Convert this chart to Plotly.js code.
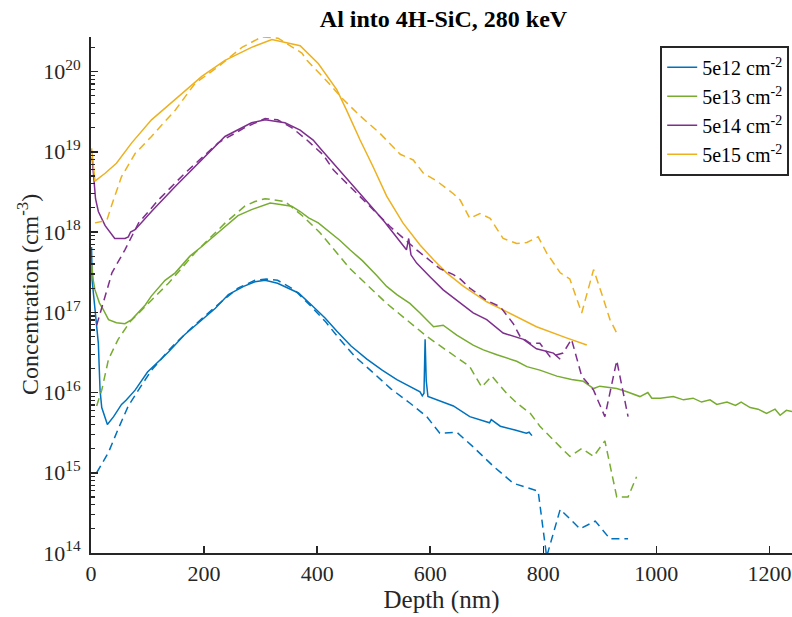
<!DOCTYPE html>
<html>
<head>
<meta charset="utf-8">
<script src="https://cdn.plot.ly/plotly-3.0.1.min.js"></script>
<style>html,body{margin:0;padding:0;background:#fff;}#chart{width:792px;height:617px;}</style>
</head>
<body>
<div id="chart"></div>
<script>
// ---- Data (depth in nm, concentration in cm^-3) ----
const doseLabels = ["5e12 cm<sup>-2</sup>", "5e13 cm<sup>-2</sup>", "5e14 cm<sup>-2</sup>", "5e15 cm<sup>-2</sup>"];
const colors = ["#0072BD", "#77AC30", "#7E2F8E", "#EDB120"];

// 5e12 measured (solid)
const d12_x = [1, 2, 13, 16, 19, 29, 40, 54, 62, 78, 100, 137, 165, 196, 220, 243, 270, 290, 308, 330, 350, 367, 390, 414, 435, 460, 488, 515, 541, 565, 582, 586, 589, 591, 593, 596, 620, 641, 670, 690, 705, 708, 724, 750, 770, 775, 780];
const d12_y = [6.5e17, 2.5e17, 4.1e16, 1.07e16, 6.5e15, 4.0e15, 5.0e15, 7.1e15, 8.0e15, 1.07e16, 1.8e16, 3.2e16, 5.2e16, 8.1e16, 1.12e17, 1.66e17, 2.1e17, 2.4e17, 2.5e17, 2.3e17, 2.0e17, 1.74e17, 1.23e17, 8.5e16, 5.8e16, 3.8e16, 2.6e16, 1.9e16, 1.45e16, 1.17e16, 1.02e16, 9.1e15, 9.8e15, 4.6e16, 1.4e16, 8.9e15, 7.8e15, 6.8e15, 5.0e15, 4.5e15, 4.2e15, 4.6e15, 3.8e15, 3.4e15, 3.1e15, 3.2e15, 2.9e15];
// 5e12 simulated (dashed)
const s12_x = [10, 31, 48, 66, 85, 107, 143, 180, 220, 260, 290, 310, 330, 360, 390, 415, 440, 467, 494, 530, 564, 594, 617, 647, 676, 712, 747, 791, 806, 830, 865, 892, 918, 950];
const s12_y = [1.0e15, 1.8e15, 3.5e15, 6.8e15, 1.1e16, 1.9e16, 3.7e16, 6.6e16, 1.17e17, 2.0e17, 2.5e17, 2.6e17, 2.5e17, 1.9e17, 1.17e17, 7.6e16, 4.6e16, 2.8e16, 1.9e16, 1.12e16, 7.4e15, 5.0e15, 3.1e15, 3.2e15, 2.1e15, 1.2e15, 7.4e14, 5.9e14, 9.0e13, 3.5e14, 2.0e14, 2.5e14, 1.5e14, 1.5e14];

// 5e13 measured (solid)
const d13_x = [1, 4, 7, 15, 22, 31, 45, 60, 72, 96, 107, 131, 149, 175, 196, 237, 260, 284, 300, 317, 335, 355, 370, 385, 402, 417, 440, 458, 480, 505, 523, 541, 564, 582, 606, 623, 647, 676, 694, 718, 753, 771, 794, 824, 850, 871, 889, 900, 915, 930, 948, 971, 985, 992, 1007, 1030, 1048, 1065, 1080, 1095, 1107, 1125, 1140, 1150, 1166, 1180, 1195, 1210, 1219, 1230, 1240];
const d13_y = [4.1e17, 2.5e17, 1.9e17, 1.3e17, 1.07e17, 8.1e16, 7.4e16, 7.2e16, 8.1e16, 1.23e17, 1.6e17, 2.5e17, 3.1e17, 5.0e17, 6.6e17, 1.17e18, 1.6e18, 1.9e18, 2.1e18, 2.3e18, 2.2e18, 2.1e18, 1.8e18, 1.5e18, 1.3e18, 1.07e18, 7.9e17, 6.0e17, 4.4e17, 2.9e17, 2.1e17, 1.66e17, 1.29e17, 9.8e16, 6.6e16, 6.9e16, 5.2e16, 3.9e16, 3.4e16, 2.95e16, 2.45e16, 2.1e16, 1.9e16, 1.6e16, 1.45e16, 1.38e16, 1.12e16, 1.2e16, 1.15e16, 1.12e16, 1.02e16, 8.9e15, 1.0e16, 8.5e15, 8.5e15, 8.9e15, 8.1e15, 8.5e15, 7.6e15, 8.1e15, 7.1e15, 7.6e15, 6.9e15, 7.6e15, 6.5e15, 6.2e15, 5.5e15, 6.2e15, 5.2e15, 6.0e15, 5.8e15];
// 5e13 simulated (dashed)
const s13_x = [10, 19, 31, 48, 69, 96, 137, 184, 237, 272, 290, 308, 343, 376, 405, 458, 523, 594, 653, 670, 691, 709, 735, 753, 777, 794, 830, 847, 868, 889, 909, 930, 950, 965];
const s13_y = [6.8e15, 1.07e16, 2.6e16, 4.6e16, 7.6e16, 1.17e17, 2.3e17, 5.5e17, 1.29e18, 2.1e18, 2.4e18, 2.6e18, 2.4e18, 1.55e18, 9.8e17, 3.5e17, 1.29e17, 5.0e16, 2.6e16, 2.1e16, 1.17e16, 1.6e16, 9.8e15, 7.4e15, 5.5e15, 3.8e15, 2.1e15, 1.6e15, 2.0e15, 1.6e15, 2.5e15, 5.0e14, 5.0e14, 8.9e14];

// 5e14 measured (solid)
const d14_x = [2, 5, 8, 13, 25, 42, 60, 66, 70, 78, 107, 149, 196, 237, 284, 308, 343, 370, 379, 393, 408, 429, 476, 517, 558, 562, 566, 576, 588, 600, 623, 653, 676, 700, 729, 765, 788, 818, 830];
const d14_y = [8.5e18, 4.0e18, 2.6e18, 1.8e18, 1.2e18, 8.3e17, 8.3e17, 8.7e17, 1.0e18, 1.07e18, 1.8e18, 3.7e18, 7.9e18, 1.55e19, 2.3e19, 2.5e19, 2.3e19, 1.86e19, 1.66e19, 1.4e19, 1.05e19, 7.2e18, 3.0e18, 1.4e18, 6.0e17, 8.3e17, 5.2e17, 4.1e17, 3.4e17, 2.75e17, 1.9e17, 1.29e17, 9.8e16, 8.1e16, 5.5e16, 4.6e16, 3.5e16, 3.1e16, 2.6e16];
// 5e14 simulated (dashed)
const s14_x = [10, 19, 31, 37, 60, 84, 119, 166, 225, 272, 308, 330, 355, 382, 411, 429, 482, 529, 576, 591, 617, 641, 653, 670, 700, 724, 747, 759, 777, 794, 812, 835, 850, 868, 889, 909, 930, 950];
const s14_y = [6.9e16, 1.17e17, 2.2e17, 3.1e17, 6.0e17, 1.29e18, 2.5e18, 5.4e18, 1.29e19, 2.0e19, 2.6e19, 2.5e19, 2.0e19, 1.4e19, 9.1e18, 5.9e18, 2.5e18, 1.17e18, 6.0e17, 4.9e17, 3.5e17, 2.95e17, 2.6e17, 2.0e17, 1.4e17, 1.17e17, 7.2e16, 5.0e16, 4.1e16, 4.1e16, 2.8e16, 3.1e16, 4.6e16, 1.6e16, 1.07e16, 5.0e15, 2.5e16, 5.0e15];

// 5e15 measured (solid)
const d15_x = [1, 7, 25, 45, 72, 107, 149, 196, 237, 284, 320, 355, 370, 402, 435, 452, 476, 499, 523, 552, 582, 606, 629, 659, 700, 735, 788, 841, 877];
const d15_y = [1.1e19, 4.3e18, 5.4e18, 7.2e18, 1.29e19, 2.5e19, 4.5e19, 8.7e19, 1.38e20, 2.0e20, 2.5e20, 2.2e20, 2.1e20, 1.26e20, 5.9e19, 3.3e19, 1.4e19, 6.5e18, 2.8e18, 1.29e18, 6.9e17, 4.5e17, 3.1e17, 2.1e17, 1.35e17, 1.02e17, 6.6e16, 4.8e16, 3.9e16];
// 5e15 simulated (dashed)
const s15_x = [7, 28, 37, 54, 78, 107, 149, 184, 225, 267, 302, 331, 373, 382, 417, 446, 476, 511, 547, 570, 588, 612, 641, 653, 670, 688, 706, 729, 753, 771, 791, 806, 830, 847, 868, 889, 903, 918, 930];
const s15_y = [1.3e18, 1.4e18, 2.2e18, 4.9e18, 9.5e18, 1.55e19, 3.3e19, 7.1e19, 1.15e20, 2.0e20, 2.7e20, 2.6e20, 1.7e20, 1.38e20, 7.6e19, 4.5e19, 2.8e19, 1.7e19, 9.3e18, 7.9e18, 5.4e18, 4.3e18, 3.0e18, 2.5e18, 1.48e18, 1.7e18, 1.48e18, 8.3e17, 7.2e17, 7.4e17, 8.7e17, 5.5e17, 3.1e17, 2.6e17, 9.8e16, 3.4e17, 1.74e17, 8.1e16, 5.5e16];

const xTicks = [0, 200, 400, 600, 800, 1000, 1200];
const yTickVals = [1e14, 1e15, 1e16, 1e17, 1e18, 1e19, 1e20];
const yTickText = ["10<sup>14</sup>", "10<sup>15</sup>", "10<sup>16</sup>", "10<sup>17</sup>", "10<sup>18</sup>", "10<sup>19</sup>", "10<sup>20</sup>"];

// ---- Traces ----
const measured = [[d12_x, d12_y], [d13_x, d13_y], [d14_x, d14_y], [d15_x, d15_y]];
const simulated = [[s12_x, s12_y], [s13_x, s13_y], [s14_x, s14_y], [s15_x, s15_y]];
const traces = [];
measured.forEach((m, i) => {
  traces.push({x: m[0], y: m[1], type: 'scatter', mode: 'lines', name: doseLabels[i],
    legendgroup: 'g' + i, line: {color: colors[i], width: 1.5}});
});
simulated.forEach((s, i) => {
  traces.push({x: s[0], y: s[1], type: 'scatter', mode: 'lines', showlegend: false,
    legendgroup: 'g' + i, line: {color: colors[i], width: 1.5, dash: '8px,5px'}});
});

const serif = '"Liberation Serif", "Times New Roman", serif';
const axisColor = '#262626';
const layout = {
  width: 792, height: 617,
  margin: {l: 91, r: 0, t: 37, b: 64, pad: 0},
  paper_bgcolor: '#fff', plot_bgcolor: '#fff',
  font: {family: serif, color: axisColor},
  title: {text: 'Al into 4H-SiC, 280 keV', font: {family: serif, size: 24, weight: 'bold', color: '#000'},
    x: 443.5 / 792, xref: 'container', y: 1 - 19 / 617, yref: 'container', xanchor: 'center', yanchor: 'middle'},
  showlegend: true,
  legend: {x: 0.996, y: 0.983, xanchor: 'right', yanchor: 'top', bgcolor: '#fff',
    bordercolor: axisColor, borderwidth: 2, font: {family: serif, size: 20, color: '#000'},
    tracegroupgap: 0},
  xaxis: {range: [0, 1240], tickvals: xTicks, ticks: 'inside', ticklen: 7, tickwidth: 1.5,
    tickcolor: axisColor, showline: true, linecolor: axisColor, linewidth: 2, showgrid: false,
    zeroline: false, tickfont: {family: serif, size: 22, color: axisColor},
    title: {text: 'Depth (nm)', font: {family: serif, size: 25, color: axisColor}, standoff: 3}},
  yaxis: {type: 'log', range: [14, 20.43], tickvals: yTickVals, ticktext: yTickText,
    ticks: 'inside', ticklen: 7, tickwidth: 1.5, tickcolor: axisColor, showline: true,
    linecolor: axisColor, linewidth: 2, showgrid: false, zeroline: false, ticklabelstandoff: 4,
    minor: {ticks: 'inside', ticklen: 4, tickwidth: 1.2, tickcolor: axisColor, dtick: 'D1', showgrid: false},
    tickfont: {family: serif, size: 22, color: axisColor}},
  annotations: [{text: 'Concentration (cm<sup>-3</sup>)', textangle: -90, showarrow: false,
    xref: 'paper', yref: 'paper', x: (28 - 91) / 701, y: 0.5, xanchor: 'center', yanchor: 'middle',
    font: {family: serif, size: 24, color: axisColor}}]
};

Plotly.newPlot('chart', traces, layout, {staticPlot: true, displayModeBar: false});
</script>
</body>
</html>
